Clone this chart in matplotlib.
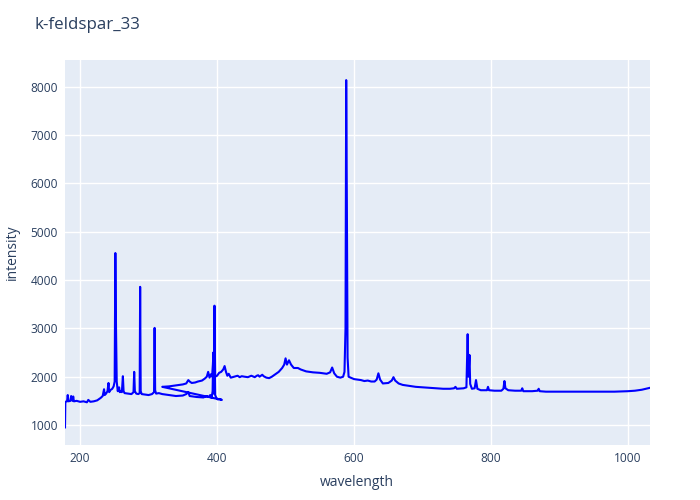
import matplotlib
matplotlib.use("Agg")
import matplotlib.pyplot as plt

# spectrum segment 1 (short-wave detector)
wl_a = [178, 178.5, 181, 182, 183, 186, 187, 189, 190, 191, 195, 200, 205, 210, 212, 215,
        220, 225, 230, 233, 235, 236, 238, 240, 241.5, 242.5, 244, 247, 249, 250.5, 251.5,
        252.5, 253.5, 255, 257, 258, 259, 261, 262.5, 263.5, 265, 270, 275, 278, 279, 280,
        282, 285, 287, 287.7, 288.5, 290, 295, 300, 305, 308, 308.8, 309.6, 311, 315, 320,
        330, 340, 350, 355, 358, 360, 370, 380, 385, 388, 390, 392, 393.5, 394.4, 395.3,
        396.2, 397.2, 399, 401, 403, 407]
int_a = [950, 1480, 1490, 1620, 1490, 1500, 1600, 1500, 1590, 1490, 1500, 1480, 1490, 1470, 1520, 1480,
         1490, 1510, 1560, 1600, 1740, 1620, 1650, 1700, 1870, 1680, 1720, 1750, 1800, 1900, 4560,
         2980, 1900, 1700, 1780, 1680, 1700, 1680, 2010, 1700, 1660, 1650, 1640, 1680, 2100, 1700,
         1650, 1640, 1660, 3860, 1700, 1640, 1630, 1620, 1640, 1680, 3010, 1720, 1650, 1660, 1640,
         1620, 1600, 1610, 1640, 1680, 1600, 1580, 1570, 1600, 1580, 1620, 1560, 1700, 2500, 1650,
         2800, 1620, 1560, 1530, 1540, 1520]

# spectrum segment 2 (long-wave detector)
wl_b = [320, 330, 340, 350, 355, 358, 360, 363, 368, 372, 378, 382, 385, 387, 389, 391, 393,
        394.4, 395.3, 396.2, 397.2, 400, 403, 406, 409, 411, 413, 415, 417, 420, 425, 430, 433,
        436, 440, 445, 450, 455, 458, 460, 462, 466, 468, 472, 476, 480, 485, 490, 495, 498,
        500, 502, 505, 508, 512, 518, 522, 530, 540, 550, 560, 565, 568, 571, 575, 580, 584,
        586, 587.5, 588.5, 589.5, 590.5, 592, 595, 600, 610, 615, 620, 625, 630, 633, 635.5,
        638, 642, 650, 655, 657.5, 660, 665, 671, 680, 690, 700, 710, 720, 730, 740, 746, 748,
        750, 760, 764, 765.8, 767, 768.5, 769.5, 772, 776, 778, 780, 785, 794, 795.5, 797, 805,
        815, 818, 819.5, 821, 825, 835, 844, 845.5, 847, 860, 868, 869.5, 871, 880, 900, 920,
        940, 960, 980, 1000, 1010, 1020, 1032]
int_b = [1790, 1800, 1820, 1840, 1860, 1930, 1900, 1870, 1880, 1900, 1920, 1960, 2000, 2100, 1980, 2050, 2000,
         2400, 1950, 3470, 2000, 2020, 2080, 2100, 2150, 2220, 2100, 2020, 2060, 1980, 2000, 2020, 1990,
         2010, 2000, 1990, 2020, 1990, 2020, 2030, 2000, 2040, 2010, 1980, 1970, 2000, 2050, 2100, 2180, 2250,
         2380, 2250, 2340, 2250, 2180, 2180, 2150, 2110, 2090, 2080, 2060, 2090, 2190, 2070, 2000, 1980, 2000,
         2100, 3000, 8140, 5500, 2400, 2000, 1980, 1950, 1930, 1910, 1920, 1900, 1900, 1940, 2070,
         1940, 1860, 1870, 1920, 1990, 1920, 1860, 1830, 1810, 1790, 1780, 1770, 1760, 1750, 1750, 1760, 1790,
         1750, 1760, 1780, 2880, 2000, 2450, 1850, 1750, 1760, 1930, 1750, 1720, 1720, 1790, 1720, 1710,
         1710, 1750, 1910, 1760, 1720, 1710, 1710, 1760, 1700, 1700, 1710, 1750, 1700, 1690, 1690, 1690,
         1690, 1690, 1690, 1700, 1710, 1730, 1770]

wavelength = wl_a + wl_b
intensity = int_a + int_b

BG, TXT = "#E5ECF6", "#2a3f5f"

plt.rcParams.update({"font.family": ["Open Sans", "DejaVu Sans"], "font.size": 8.6})

fig = plt.figure(figsize=(7, 5), dpi=100)
ax = fig.add_axes([65 / 700, 55 / 500, 585 / 700, 385 / 500])
ax.set_facecolor(BG)
for s in ax.spines.values():
    s.set_visible(False)

ax.plot(wavelength, intensity, color="#0000ff", lw=1.5, zorder=3)

ax.set_xlim(178, 1032)
ax.set_ylim(586, 8556)
ax.set_xticks([200, 400, 600, 800, 1000])
ax.set_yticks(range(1000, 8001, 1000))
ax.grid(True, color="white", lw=1, zorder=0)
ax.set_axisbelow(True)
ax.tick_params(length=0, colors=TXT, labelsize=8.6, pad=5)

# axis titles placed in figure pixels, plotly-style
fig.text(357 / 700, 1 - 483 / 500, "wavelength", fontsize=10, color=TXT, ha="center", va="center")
fig.text(12 / 700, 1 - 252 / 500, "intensity", fontsize=10, color=TXT, ha="center", va="center",
         rotation=90)
fig.text(35 / 700, 1 - 25 / 500, "k-feldspar_33", fontsize=12.2, color=TXT, ha="left", va="center")

fig.savefig("out.png", dpi=100, facecolor="white")
